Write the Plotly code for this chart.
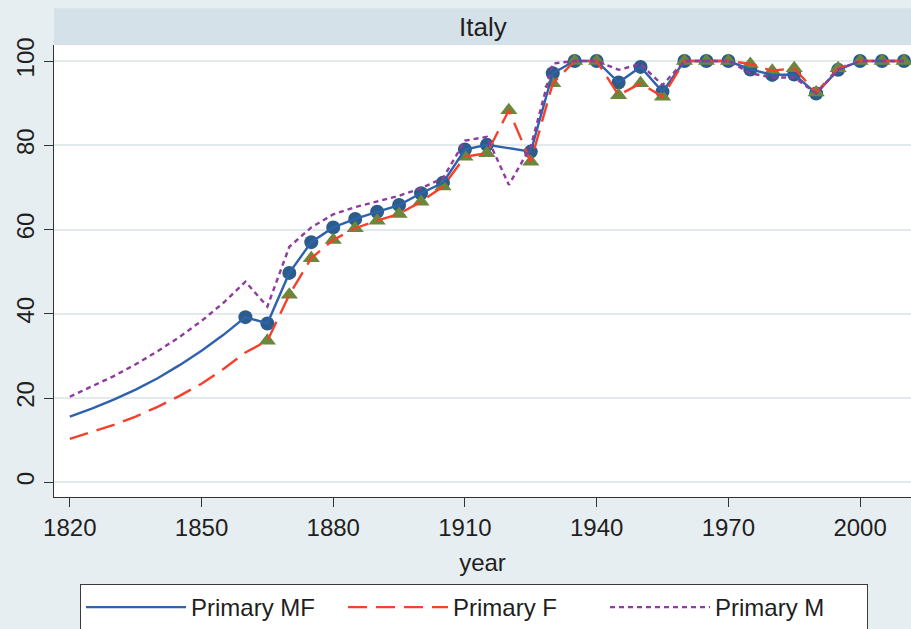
import plotly.graph_objects as go

# ---------------- data ----------------
years = list(range(1820, 2011, 5))

primary_mf = [15.6, 17.5, 19.6, 22.0, 24.7, 27.8, 31.2, 35.0, 39.2, 37.7,
              49.7, 57.0, 60.5, 62.5, 64.2, 65.8, 68.6, 71.1, 79.0, 80.1,
              None, 78.5, 97.1, 100, 100, 94.9, 98.6, 92.7, 100, 100,
              100, 98.0, 96.7, 96.8, 92.3, 97.9, 100, 100, 100]

primary_f = [10.3, 11.9, 13.6, 15.6, 17.9, 20.5, 23.4, 26.9, 30.8, 33.6,
             44.5, 53.2, 57.5, 60.3, 62.1, 63.7, 66.6, 70.2, 77.3, 78.1,
             88.3, 76.1, 94.7, 100, 100, 91.9, 94.7, 91.5, 100, 100,
             100, 99.3, 97.7, 98.3, 92.5, 98.3, 100, 100, 100]

primary_m = [20.3, 22.8, 25.2, 28.0, 31.1, 34.5, 38.3, 42.6, 47.6, 41.7,
             55.9, 60.5, 63.6, 65.3, 66.6, 68.0, 69.8, 72.2, 81.1, 82.0,
             70.6, 79.7, 99.4, 100, 100, 97.9, 99.3, 94.3, 100, 100,
             100, 97.1, 96.1, 96.1, 92.3, 98.0, 100, 100, 100]

mf_marker_from = 1860   # observed points (circles)
f_marker_from = 1865    # observed points (triangles)

x_ticks = [1820, 1850, 1880, 1910, 1940, 1970, 2000]
y_ticks = [0, 20, 40, 60, 80, 100]
panel_title = "Italy"
x_title = "year"

# ---------------- styling ----------------
FONT = "Liberation Sans, Arial, Helvetica, sans-serif"
TXT = "#1f1f1f"
BG = "#e7eef1"
STRIP = "#d5e1e8"
GRID = "#e2eaee"
BLUE = "#2f62ad"
RED = "#f6402c"
PURPLE = "#8e3c9e"
CIRCLE = "#2c5c88"
TRI = "#6a873b"
FS = 24

mf_mx = [y for y, v in zip(years, primary_mf) if y >= mf_marker_from and v is not None]
mf_my = [v for y, v in zip(years, primary_mf) if y >= mf_marker_from and v is not None]
f_mx = [y for y, v in zip(years, primary_f) if y >= f_marker_from and v is not None]
f_my = [v for y, v in zip(years, primary_f) if y >= f_marker_from and v is not None]

fig = go.Figure()

# markers first (lines are drawn over them)
fig.add_trace(go.Scatter(x=mf_mx, y=mf_my, mode="markers", showlegend=False,
                         marker=dict(symbol="circle", size=14, color=CIRCLE,
                                     line=dict(width=0)),
                         hoverinfo="skip"))
fig.add_trace(go.Scatter(x=f_mx, y=f_my, mode="markers", showlegend=False,
                         marker=dict(symbol="triangle-up", size=15, color=TRI,
                                     line=dict(width=0)),
                         hoverinfo="skip"))

fig.add_trace(go.Scatter(x=years, y=primary_mf, mode="lines", name="Primary MF",
                         connectgaps=True,
                         line=dict(color=BLUE, width=2.4, dash="solid")))
fig.add_trace(go.Scatter(x=years, y=primary_f, mode="lines", name="Primary F",
                         connectgaps=True,
                         line=dict(color=RED, width=2.4, dash="19px,9px")))
fig.add_trace(go.Scatter(x=years, y=primary_m, mode="lines", name="Primary M",
                         connectgaps=True,
                         line=dict(color=PURPLE, width=2.4, dash="5px,4px")))

W, H = 911, 629
ML, MR, MT, MB = 54, 0, 45, 132
plot_h = H - MT - MB

def py(px):
    """pixel row -> paper y"""
    return (H - MB - px) / plot_h

fig.add_shape(type="rect", xref="paper", yref="paper",
              x0=0, x1=1, y0=py(45), y1=py(8.3),
              fillcolor=STRIP, line=dict(width=0), layer="below")
fig.add_annotation(text=panel_title, xref="paper", yref="paper",
                   x=0.5, y=py(26.5), showarrow=False,
                   xanchor="center", yanchor="middle",
                   font=dict(family=FONT, size=26, color=TXT))

fig.update_layout(
    width=W, height=H,
    margin=dict(l=ML, r=MR, t=MT, b=MB, pad=0, autoexpand=False),
    paper_bgcolor=BG, plot_bgcolor="white",
    font=dict(family=FONT, size=FS, color=TXT),
    showlegend=True,
    legend=dict(orientation="h", xref="container", yref="container",
                x=80 / W, xanchor="left",
                y=1 - 584 / H, yanchor="top",
                bgcolor="white", bordercolor="#3a3a3a", borderwidth=1,
                font=dict(family=FONT, size=FS, color=TXT),
                entrywidth=147, entrywidthmode="pixels", itemwidth=100,
                tracegroupgap=0),
    xaxis=dict(range=[1816.4, 2011.6], tickmode="array", tickvals=x_ticks,
               ticks="outside", ticklen=9, tickwidth=1.3, tickcolor="#333",
               showline=True, linecolor="#333", linewidth=1.3,
               showgrid=False, zeroline=False, mirror=False,
               tickfont=dict(family=FONT, size=FS, color=TXT),
               title=dict(text=x_title, standoff=14,
                          font=dict(family=FONT, size=FS, color=TXT))),
    yaxis=dict(range=[-3.5, 103.8], tickmode="array", tickvals=y_ticks,
               tickangle=-90,
               ticks="outside", ticklen=9, tickwidth=1.3, tickcolor="#333",
               showline=True, linecolor="#333", linewidth=1.3,
               showgrid=True, gridcolor=GRID, gridwidth=1.6,
               zeroline=False, mirror=False,
               tickfont=dict(family=FONT, size=FS, color=TXT)),
)

# remove the browser's default page margin so the figure sits at (0, 0)
fig.write_html("out.html",
               config={"displayModeBar": False},
               post_script="document.body.style.margin='0';"
                           "document.body.style.background='%s';" % BG)
